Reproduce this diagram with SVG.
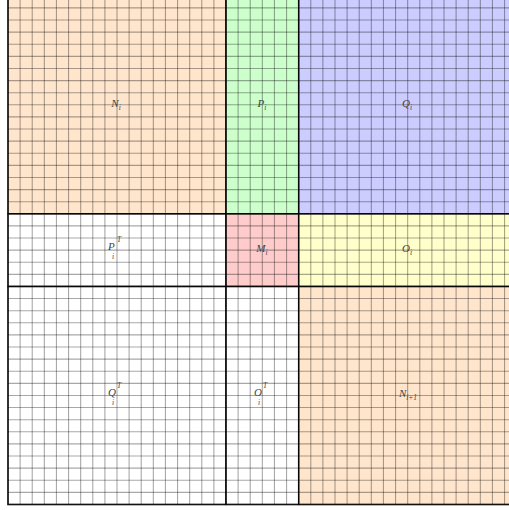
<svg xmlns="http://www.w3.org/2000/svg" width="509" height="510" viewBox="0 0 509 510">
<style>
.blk{stroke:#000;stroke-opacity:0.7;stroke-width:1.4}
.grid{fill:none;stroke:#000;stroke-opacity:0.34;stroke-width:1.1}
.lbl{font-family:"Liberation Serif",serif;font-style:italic;font-size:11px;fill:#444;text-anchor:middle}
.sc{font-family:"Liberation Serif",serif;font-style:italic;font-size:7.5px;fill:#444}
.st{font-family:"Liberation Serif",serif;font-style:italic;font-size:11px;fill:#444}
.sub{font-size:7.5px}
</style>
<rect x="0" y="0" width="509" height="510" fill="#fff"/>
<g id="N_i"><rect class="blk" x="8" y="-4.2" width="218" height="218" fill="#ffe5cc"/></g>
<g id="P_i"><rect class="blk" x="226" y="-4.2" width="72.67" height="218" fill="#ccffcc"/></g>
<g id="Q_i"><rect class="blk" x="298.67" y="-4.2" width="218" height="218" fill="#ccccff"/></g>
<g id="P_iT"><rect class="blk" x="8" y="213.8" width="218" height="72.67" fill="#fff"/></g>
<g id="M_i"><rect class="blk" x="226" y="213.8" width="72.67" height="72.67" fill="#ffcccc"/></g>
<g id="O_i"><rect class="blk" x="298.67" y="213.8" width="218" height="72.67" fill="#ffffcc"/></g>
<g id="Q_iT"><rect class="blk" x="8" y="286.47" width="218" height="218" fill="#fff"/></g>
<g id="O_iT"><rect class="blk" x="226" y="286.47" width="72.67" height="218" fill="#fff"/></g>
<g id="N_i1"><rect class="blk" x="298.67" y="286.47" width="218" height="218" fill="#ffe5cc"/></g>
<g id="connectors">
<path class="grid" d="M8 -4.2v508.7m12.111 -508.7v508.7m12.111 -508.7v508.7m12.111 -508.7v508.7m12.111 -508.7v508.7m12.111 -508.7v508.7m12.111 -508.7v508.7m12.111 -508.7v508.7m12.111 -508.7v508.7m12.111 -508.7v508.7m12.111 -508.7v508.7m12.111 -508.7v508.7m12.111 -508.7v508.7m12.111 -508.7v508.7m12.111 -508.7v508.7m12.111 -508.7v508.7m12.111 -508.7v508.7m12.111 -508.7v508.7m12.111 -508.7v508.7m12.111 -508.7v508.7m12.111 -508.7v508.7m12.111 -508.7v508.7m12.111 -508.7v508.7m12.111 -508.7v508.7m12.111 -508.7v508.7m12.111 -508.7v508.7m12.111 -508.7v508.7m12.111 -508.7v508.7m12.111 -508.7v508.7m12.111 -508.7v508.7m12.111 -508.7v508.7m12.111 -508.7v508.7m12.111 -508.7v508.7m12.111 -508.7v508.7m12.111 -508.7v508.7m12.111 -508.7v508.7m12.111 -508.7v508.7m12.111 -508.7v508.7m12.111 -508.7v508.7m12.111 -508.7v508.7m12.111 -508.7v508.7m12.111 -508.7v508.7"/>
<path class="grid" d="M8 -4.2h508.7m-508.7 12.111h508.7m-508.7 12.111h508.7m-508.7 12.111h508.7m-508.7 12.111h508.7m-508.7 12.111h508.7m-508.7 12.111h508.7m-508.7 12.111h508.7m-508.7 12.111h508.7m-508.7 12.111h508.7m-508.7 12.111h508.7m-508.7 12.111h508.7m-508.7 12.111h508.7m-508.7 12.111h508.7m-508.7 12.111h508.7m-508.7 12.111h508.7m-508.7 12.111h508.7m-508.7 12.111h508.7m-508.7 12.111h508.7m-508.7 12.111h508.7m-508.7 12.111h508.7m-508.7 12.111h508.7m-508.7 12.111h508.7m-508.7 12.111h508.7m-508.7 12.111h508.7m-508.7 12.111h508.7m-508.7 12.111h508.7m-508.7 12.111h508.7m-508.7 12.111h508.7m-508.7 12.111h508.7m-508.7 12.111h508.7m-508.7 12.111h508.7m-508.7 12.111h508.7m-508.7 12.111h508.7m-508.7 12.111h508.7m-508.7 12.111h508.7m-508.7 12.111h508.7m-508.7 12.111h508.7m-508.7 12.111h508.7m-508.7 12.111h508.7m-508.7 12.111h508.7m-508.7 12.111h508.7"/>
<path fill="none" stroke="#000" stroke-opacity="0.75" stroke-width="1.4" d="M8 -4.2V504.5H517M226 -4.2V504.5M298.67 -4.2V504.5M8 213.8H517M8 286.47H517"/>
</g>
<g id="labels">
<text class="lbl" x="116" y="107">N<tspan class="sub" dy="2.5">i</tspan></text>
<text class="lbl" x="262" y="107">P<tspan class="sub" dy="2.5">i</tspan></text>
<text class="lbl" x="407" y="107">Q<tspan class="sub" dy="2.5">i</tspan></text>
<text class="st" x="108" y="250">P</text><text class="sc" x="117" y="242">T</text><text class="sc" x="112" y="259">i</text>
<text class="lbl" x="262" y="252">M<tspan class="sub" dy="2.5">i</tspan></text>
<text class="lbl" x="407" y="252">O<tspan class="sub" dy="2.5">i</tspan></text>
<text class="st" x="108" y="396">Q</text><text class="sc" x="117" y="388">T</text><text class="sc" x="112" y="405">i</text>
<text class="st" x="254" y="396">O</text><text class="sc" x="263" y="388">T</text><text class="sc" x="258" y="405">i</text>
<text class="lbl" x="408" y="397">N<tspan class="sub" dy="2.5">i+1</tspan></text>
</g>
</svg>
